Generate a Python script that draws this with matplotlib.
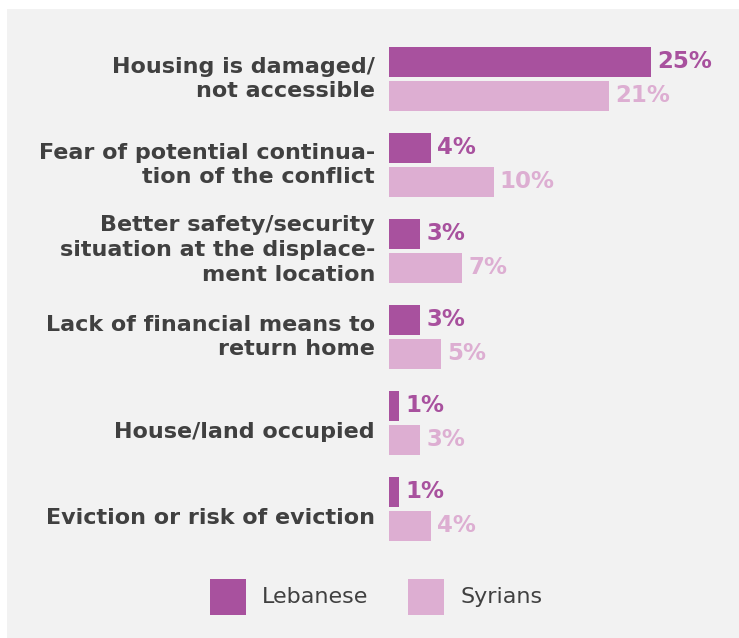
import matplotlib
matplotlib.use("Agg")
import matplotlib.pyplot as plt
from matplotlib.patches import Rectangle
from matplotlib.transforms import offset_copy

categories = [
    "Housing is damaged/\nnot accessible",
    "Fear of potential continua-\ntion of the conflict",
    "Better safety/security\nsituation at the displace-\nment location",
    "Lack of financial means to\nreturn home",
    "House/land occupied",
    "Eviction or risk of eviction",
]
lebanese = [25, 4, 3, 3, 1, 1]
syrians = [21, 10, 7, 5, 3, 4]
series_names = ["Lebanese", "Syrians"]

c_leb = "#a8519e"
c_syr = "#ddaed2"
txt = "#404040"
bg = "#f2f2f2"

W, H = 739, 638
fig = plt.figure(figsize=(W / 100, H / 100), dpi=100, facecolor="white")
fig.patches.append(Rectangle((7 / W, 0), 1 - 7 / W, 1 - 9 / H, transform=fig.transFigure,
                             facecolor=bg, edgecolor="none", zorder=-10))

ax = fig.add_axes([389 / W, 1 - 541 / H, (739 - 389) / W, 494 / H])
ax.set_facecolor("none")
ax.patch.set_alpha(0)

off = 17 / 86
h = 30 / 86
n = len(categories)
pos = list(range(n))
ax.barh([p - off for p in pos], lebanese, height=h, color=c_leb, label=series_names[0])
ax.barh([p + off for p in pos], syrians, height=h, color=c_syr, label=series_names[1])

ax.set_xlim(0, 350 / 10.48)
ax.set_ylim(n - 1 + off + h / 2, -off - h / 2)
ax.axis("off")

font = "DejaVu Sans"
tr_val = offset_copy(ax.transData, fig=fig, x=6, y=0, units="dots")
for p, v in zip(pos, lebanese):
    ax.text(v, p - off, f"{v}%", transform=tr_val, ha="left", va="center",
            fontsize=16.5, fontweight="bold", color=c_leb, family=font)
for p, v in zip(pos, syrians):
    ax.text(v, p + off, f"{v}%", transform=tr_val, ha="left", va="center",
            fontsize=16.5, fontweight="bold", color=c_syr, family=font)

for p, c in zip(pos, categories):
    nl = c.count("\n")
    dy = -9 if nl == 0 else (1 if nl == 2 else 0)
    tr_lab = offset_copy(ax.transData, fig=fig, x=-14, y=dy, units="dots")
    ax.text(0, p, c, transform=tr_lab, ha="right", va="center", fontsize=16,
            fontweight="bold", color=txt, family=font, linespacing=1.3)

# legend
for x0, col, name in [(210, c_leb, series_names[0]), (408, c_syr, series_names[1])]:
    fig.patches.append(Rectangle((x0 / W, 1 - 615 / H), 36 / W, 36 / H,
                                 transform=fig.transFigure, facecolor=col, edgecolor="none"))
    fig.text((x0 + 52) / W, 1 - 597 / H, name, ha="left", va="center", fontsize=16,
             color=txt, family=font)

fig.savefig("out.png", dpi=100, facecolor="white")
